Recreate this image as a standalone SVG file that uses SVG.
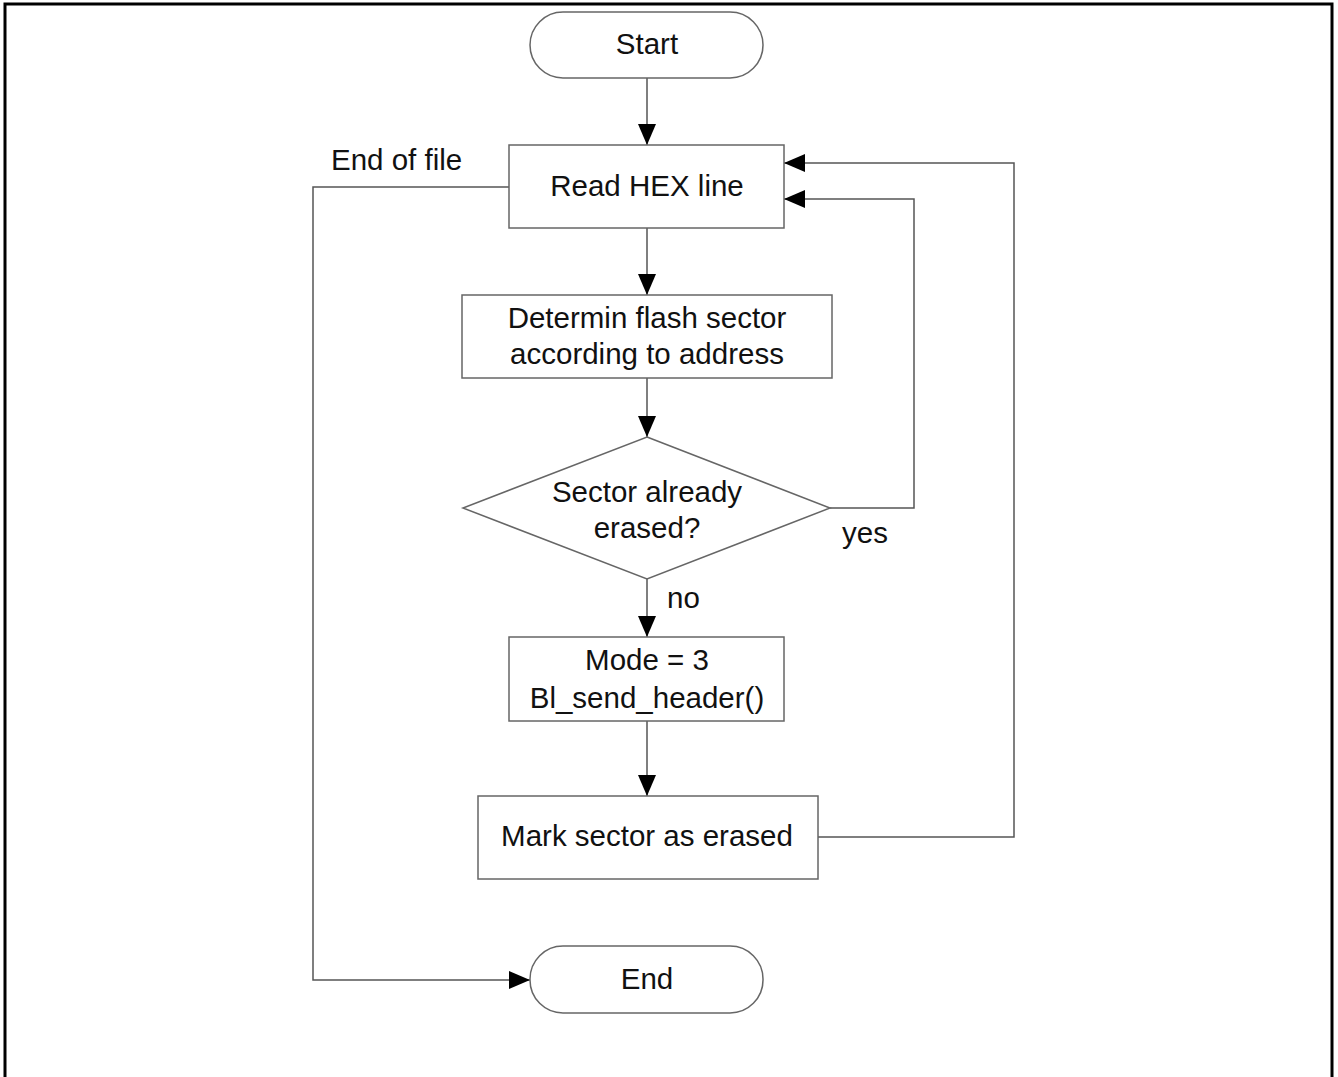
<svg xmlns="http://www.w3.org/2000/svg" width="1338" height="1077" viewBox="0 0 1338 1077">
<style>
.box{fill:#fff;stroke:#666;stroke-width:1.5}
.t{font-family:"Liberation Sans",Arial,sans-serif;font-size:29.5px;fill:#111;text-anchor:middle}
.l{font-family:"Liberation Sans",Arial,sans-serif;font-size:29.5px;fill:#111}
.c{fill:none;stroke:#555;stroke-width:1.5}
</style>
<defs>
<marker id="ah" markerUnits="userSpaceOnUse" markerWidth="22" markerHeight="18" refX="21" refY="9" orient="auto">
<path d="M0,0 L21,9 L0,18 z" fill="#000"/>
</marker>
</defs>
<rect x="5" y="4" width="1327" height="1100" fill="none" stroke="#000" stroke-width="3"/>
<g id="connectors">
<path class="c" d="M647,78 V145" marker-end="url(#ah)"/>
<path class="c" d="M647,228 V295" marker-end="url(#ah)"/>
<path class="c" d="M647,378 V437" marker-end="url(#ah)"/>
<path class="c" d="M647,579 V637" marker-end="url(#ah)"/>
<path class="c" d="M647,721 V796" marker-end="url(#ah)"/>
<path class="c" d="M818,837 H1014 V163 H784" marker-end="url(#ah)"/>
<path class="c" d="M830,508 H914 V199 H784" marker-end="url(#ah)"/>
<path class="c" d="M509,187 H313 V980 H530" marker-end="url(#ah)"/>
<text class="l" x="331" y="170">End of file</text>
<text class="l" x="842" y="543">yes</text>
<text class="l" x="667" y="608">no</text>
</g>
<g id="start">
<rect class="box" x="530" y="12" width="233" height="66" rx="33"/>
<text class="t" x="647" y="54">Start</text>
</g>
<g id="read">
<rect class="box" x="509" y="145" width="275" height="83"/>
<text class="t" x="647" y="196">Read HEX line</text>
</g>
<g id="determine">
<rect class="box" x="462" y="295" width="370" height="83"/>
<text class="t" x="647" y="328">Determin flash sector</text>
<text class="t" x="647" y="364">according to address</text>
</g>
<g id="decision">
<polygon class="box" points="647,437 830,508 647,579 463,508"/>
<text class="t" x="647" y="502">Sector already</text>
<text class="t" x="647" y="538">erased?</text>
</g>
<g id="mode">
<rect class="box" x="509" y="637" width="275" height="84"/>
<text class="t" x="647" y="670">Mode = 3</text>
<text class="t" x="647" y="708">Bl_send_header()</text>
</g>
<g id="mark">
<rect class="box" x="478" y="796" width="340" height="83"/>
<text class="t" x="647" y="846">Mark sector as erased</text>
</g>
<g id="end">
<rect class="box" x="530" y="946" width="233" height="67" rx="33"/>
<text class="t" x="647" y="989">End</text>
</g>
</svg>
